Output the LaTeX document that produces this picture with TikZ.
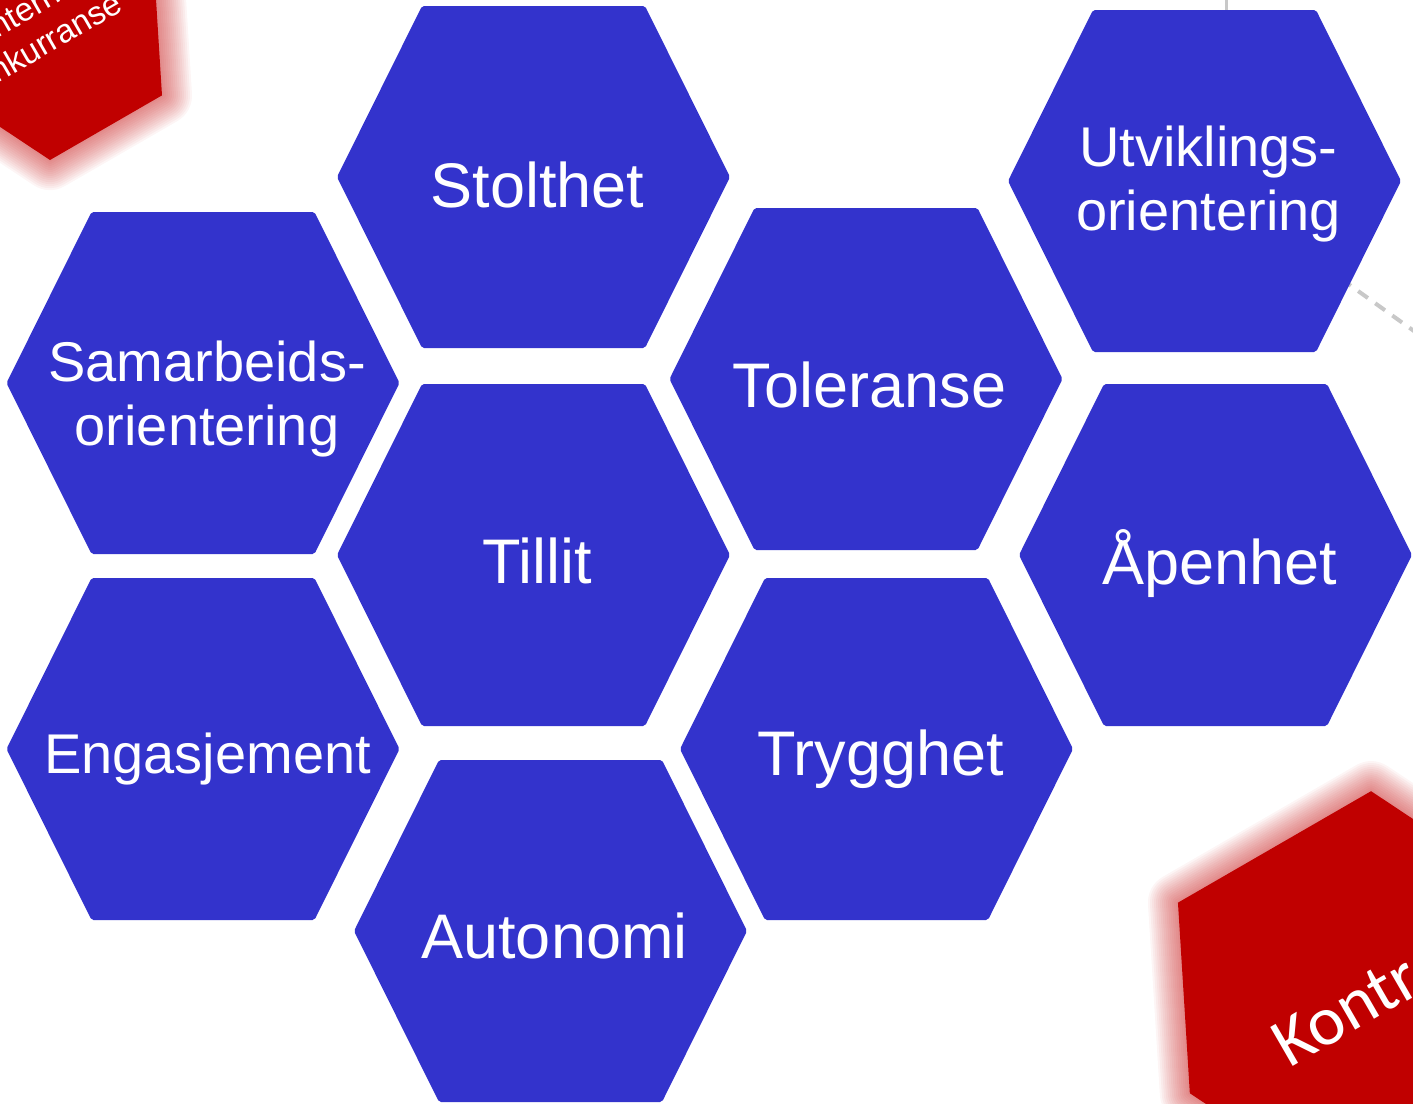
\documentclass[tikz,border=0pt]{standalone}
\usepackage{fontspec}
\setmainfont{Liberation Sans}
\newfontfamily\calfont{Carlito}
\definecolor{hexblue}{RGB}{51,51,204}
\definecolor{hexred}{RGB}{192,0,0}
\definecolor{linkgray}{RGB}{200,200,200}

\begin{document}
\begin{tikzpicture}[x=1pt,y=-1pt,
  celltext/.style={text=white, inner sep=0pt, anchor=base, font=\fontsize{63}{70}\selectfont},
  cellsmall/.style={text=white, inner sep=0pt, anchor=base, font=\fontsize{56}{64}\selectfont},
  celltwo/.style={text=white, inner sep=0pt, align=center, font=\fontsize{56}{64}\selectfont},
  link/.style={linkgray, line width=3pt},
  dashlink/.style={linkgray, line width=4pt, dash pattern=on 12pt off 9pt},
  hexcell/.pic={
    \fill[hexblue, rounded corners=2pt] (-196.5,0) -- (-111.5,-171) -- (111.5,-171)
      -- (196.5,0) -- (111.5,171) -- (-111.5,171) -- cycle;
  },
  redcell/.pic={
    % soft glow: stacked translucent strokes of growing width
    \foreach \g in {1,...,15}{
      \draw[hexred, line width=\g*4pt, draw opacity=0.038, line join=round]
        (-196.5,0) -- (-111.5,-171) -- (111.5,-171) -- (196.5,0)
        -- (111.5,171) -- (-111.5,171) -- cycle;
    }
    \fill[hexred] (-196.5,0) -- (-111.5,-171) -- (111.5,-171) -- (196.5,0)
      -- (111.5,171) -- (-111.5,171) -- cycle;
  }]
\useasboundingbox (0,0) rectangle (1413,1103);
\clip (0,0) rectangle (1413,1103);

% grey links running behind the cells
\coordinate (uhex) at (1204.5,181);
\coordinate (topend) at (1226,-20);
\coordinate (topfoot) at (1226,150);
\coordinate (dashend) at (1460,364);
\draw[link] (topend) -- (topfoot);
\draw[dashlink] (uhex) -- (dashend);

% red outer cells
\pic[rotate=30, scale=0.58] at (56.4,41.8) {redcell};
\pic[rotate=30] at (1360,995) {redcell};
\node[text=white, inner sep=0pt, align=center, rotate=30,
      font=\fontsize{33}{39}\selectfont] (intern) at (30.4,28.9) {Intern\\konkurranse};
\node[text=white, inner sep=0pt, anchor=base, rotate=30,
      font=\calfont\fontsize{70}{80}\selectfont] (kontroll) at (1386,1013) {Kontroll};

% blue value cells
\pic at (533.5,177) {hexcell};
\pic at (203,383) {hexcell};
\pic at (203,749) {hexcell};
\pic at (533.5,555) {hexcell};
\pic at (550.5,931) {hexcell};
\pic at (866,379) {hexcell};
\pic at (876.5,749) {hexcell};
\pic at (1204.5,181) {hexcell};
\pic at (1215.5,555) {hexcell};

\node[celltext] (stolthet) at (537.5,207) {Stolthet};
\node[celltwo] (samarbeid) at (207,398.7) {Samarbeids-\\orientering};
\node[cellsmall] (engasjement) at (207.5,773) {Engasjement};
\node[celltext] (tillit) at (537.5,583) {Tillit};
\node[celltext] (autonomi) at (554.5,958) {Autonomi};
\node[celltext] (toleranse) at (869.5,407) {Toleranse};
\node[celltext] (trygghet) at (880.5,775) {Trygghet};
\node[celltwo] (utvikling) at (1208.5,183.8) {Utviklings-\\orientering};
\node[celltext] (apenhet) at (1220,584) {Åpenhet};
\end{tikzpicture}
\end{document}
